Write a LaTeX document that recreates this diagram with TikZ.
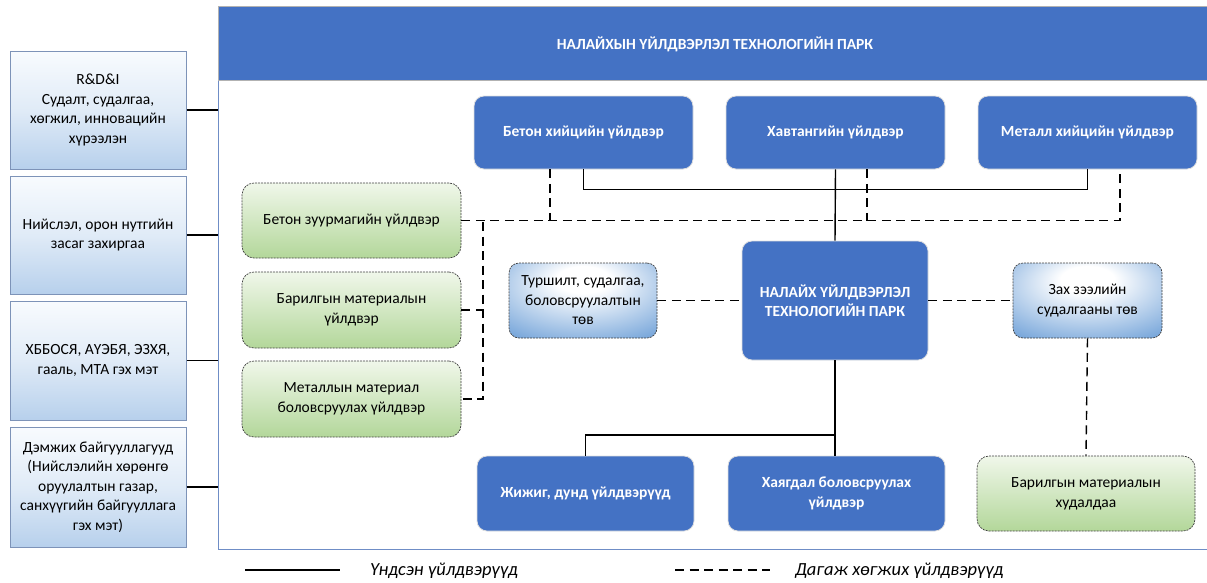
\documentclass[tikz,border=0pt]{standalone}
\usepackage{fontspec}
\setmainfont{Carlito}
\usetikzlibrary{calc}
\definecolor{pblue}{HTML}{4472C4}
\definecolor{framecol}{HTML}{6F8DC6}
\definecolor{gtop}{HTML}{F0F7EA}
\definecolor{gbot}{HTML}{B3D79A}
\definecolor{ltop}{HTML}{F8FBFE}
\definecolor{lmid}{HTML}{E0EBF7}
\definecolor{lbot}{HTML}{B7D0EC}
\definecolor{lborder}{HTML}{7D93B8}
\definecolor{sblue}{HTML}{4E8BCF}
\pgfdeclareradialshading{topradial}{\pgfpoint{0bp}{16bp}}{color(0bp)=(white); color(9bp)=(white); color(48bp)=(sblue); color(70bp)=(sblue)}
\tikzset{
  mainbox/.style={rectangle, rounded corners=10pt, fill=pblue, draw=white!75!gray, line width=0.8pt,
    text=white, font=\fontsize{15.5}{19.5}\selectfont\bfseries, align=center, inner sep=2pt},
  greenbox/.style={rectangle, rounded corners=12pt, top color=gtop, bottom color=gbot,
    draw=black!75, line width=0.7pt, dash pattern=on 2pt off 1pt,
    font=\fontsize{15.5}{20}\selectfont, align=center, inner sep=2pt},
  leftbox/.style={rectangle, top color=ltop, bottom color=lbot, middle color=lmid,
    draw=lborder, line width=1pt, font=\fontsize{15.5}{19.5}\selectfont, align=center, inner sep=2pt},
  gradbox/.style={rectangle, rounded corners=10pt, shading=topradial,
    draw=black!75, line width=0.7pt, dash pattern=on 2pt off 1pt,
    font=\fontsize{15.5}{19.5}\selectfont, align=center, inner sep=2pt},
  solidln/.style={black, line width=1.4pt},
  dashln/.style={black, line width=1.4pt, dash pattern=on 9pt off 5.5pt},
  legtext/.style={font=\fontsize{18.5}{22}\selectfont\itshape, anchor=west, inner sep=0pt},
}
\begin{document}
\begin{tikzpicture}[x=1pt, y=-1pt]
\useasboundingbox (0,0) rectangle (1207,582);
% frame and header
\node[draw=framecol, line width=1pt, minimum width=1000pt, minimum height=543pt, anchor=north west, inner sep=0pt] (frame) at (218,6) {};
\node[fill=pblue, draw=black!30, line width=1pt, minimum width=1000pt, minimum height=74pt, anchor=north west, inner sep=0pt] (header) at (218,6) {};
\node[text=white, font=\fontsize{15.5}{18}\selectfont\bfseries, inner sep=0pt] (title) at (715,44) {НАЛАЙХЫН ҮЙЛДВЭРЛЭЛ ТЕХНОЛОГИЙН ПАРК};

% left boxes
\node[leftbox, minimum width=176pt, minimum height=118pt] (L1) at (98,110) {R\&D\&I\\Судалт, судалгаа,\\хөгжил, инновацийн\\хүрээлэн};
\node[leftbox, minimum width=176pt, minimum height=118pt] (L2) at (98,235) {Нийслэл, орон нутгийн\\засаг захиргаа};
\node[leftbox, minimum width=176pt, minimum height=119pt] (L3) at (98,360.5) {ХББОСЯ, АҮЭБЯ, ЭЗХЯ,\\гааль, МТА гэх мэт};
\node[leftbox, minimum width=176pt, minimum height=120pt] (L4) at (98,487) {Дэмжих байгууллагууд\\(Нийслэлийн хөрөнгө\\оруулалтын газар,\\санхүүгийн байгууллага\\гэх мэт)};
\foreach \n in {L1,L2,L3,L4} \draw[black, line width=1.3pt] (\n.east) -- (\n.east -| frame.west);

% top blue boxes
\node[mainbox, minimum width=219pt, minimum height=73pt] (bet) at (583.5,132.5) {Бетон хийцийн үйлдвэр};
\node[mainbox, minimum width=219pt, minimum height=73pt] (hav) at (835.5,132.5) {Хавтангийн үйлдвэр};
\node[mainbox, minimum width=219pt, minimum height=73pt] (met) at (1087.5,132.5) {Металл хийцийн үйлдвэр};
% center
\node[mainbox, minimum width=186pt, minimum height=119pt] (cen) at (835,300.5) {НАЛАЙХ ҮЙЛДВЭРЛЭЛ\\ТЕХНОЛОГИЙН ПАРК};
% green boxes
\node[greenbox, minimum width=219pt, minimum height=75pt] (g1) at (351.5,220.5) {Бетон зуурмагийн үйлдвэр};
\node[greenbox, minimum width=219pt, minimum height=76pt] (g2) at (351.5,310) {Барилгын материалын\\үйлдвэр};
\node[greenbox, minimum width=219pt, minimum height=76pt] (g3) at (351.5,399) {Металлын материал\\боловсруулах үйлдвэр};
% gradient boxes
\node[gradbox, minimum width=148pt, minimum height=75pt] (tur) at (583,300.5) {Туршилт, судалгаа,\\боловсруулалтын\\төв};
\node[gradbox, minimum width=149pt, minimum height=75pt] (zah) at (1087.5,300.5) {Зах зээлийн\\судалгааны төв};
% bottom boxes
\node[mainbox, minimum width=217pt, minimum height=75pt] (zhi) at (585.5,493.5) {Жижиг, дунд үйлдвэрүүд};
\node[mainbox, minimum width=217pt, minimum height=75pt] (xay) at (836.5,493.5) {Хаягдал боловсруулах\\үйлдвэр};
\node[greenbox, minimum width=218pt, minimum height=75pt] (bhud) at (1086,493.5) {Барилгын материалын\\худалдаа};

% solid connectors
\draw[solidln] (bet.south) -- ++(0,20) -| (met.south);
\draw[solidln] (hav.south) -- (cen.north);
\draw[solidln] (cen.south) -- (cen.south |- xay.north);
\coordinate (jb) at (835,435);
\draw[solidln] (zhi.north) |- (jb);

% dashed connectors
\coordinate (busR) at ($(met.south |- g1.east)+(32.5,0)$);
\draw[dashln] (g1.east) -- (busR) -- ($(met.south)+(32.5,0)$);
\draw[dashln] ($(bet.south)+(-33.5,0)$) -- ($(bet.south |- g1.east)+(-33.5,0)$);
\draw[dashln] ($(hav.south)+(31.5,0)$) -- ($(hav.south |- g1.east)+(31.5,0)$);
\coordinate (vx) at (483,222);
\draw[dashln] (vx) -- (vx |- g3.east) -- (g3.east);
\draw[dashln] (g2.east) -- (g2.east -| vx);
\draw[dashln] (tur.east) -- (cen.west);
\draw[dashln] (cen.east) -- (zah.west);
\draw[dashln] (zah.south) -- (bhud.north);

% legend
\coordinate (ls1) at (245,570);
\coordinate (ls2) at (340,570);
\draw[black, line width=1.4pt] (ls1) -- (ls2);
\node[legtext] (lt1) at (370,571) {Үндсэн үйлдвэрүүд};
\coordinate (ld1) at (675,570);
\coordinate (ld2) at (770,570);
\draw[dashln] (ld1) -- (ld2);
\node[legtext] (lt2) at (795,571) {Дагаж хөгжих үйлдвэрүүд};
\end{tikzpicture}
\end{document}
